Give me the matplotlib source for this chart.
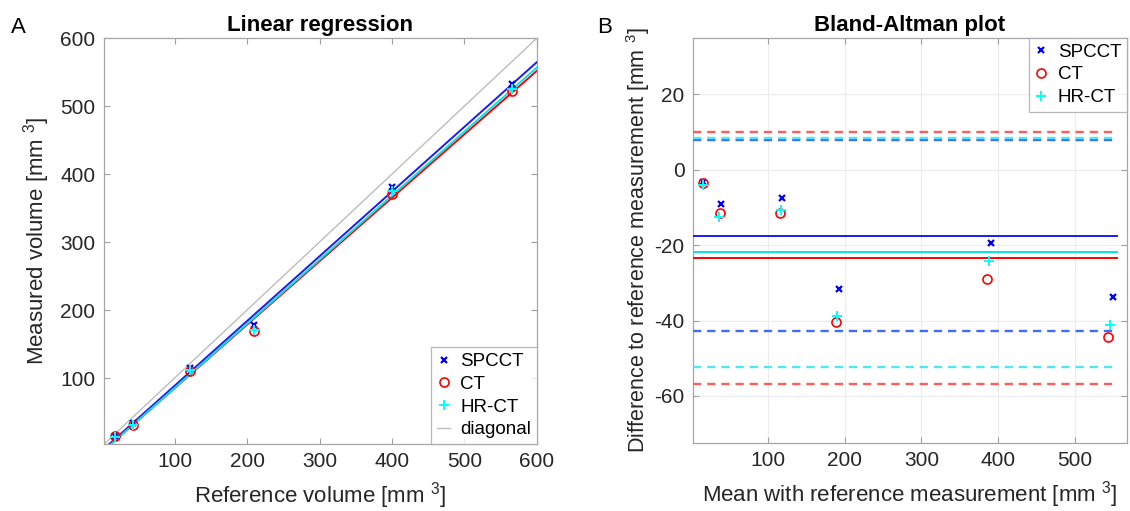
import numpy as np
import matplotlib
matplotlib.use("Agg")
import matplotlib.pyplot as plt

plt.rcParams['font.family'] = ['Liberation Sans', 'DejaVu Sans']
plt.rcParams['mathtext.fontset'] = 'custom'
plt.rcParams['mathtext.rm'] = 'Liberation Sans'
plt.rcParams['axes.unicode_minus'] = False

# ---- data ----
reference_volume = [17.5, 43, 122, 209, 400, 566]
spcct_volume = [14.3, 33.9, 114.5, 177.4, 380.5, 532.3]
ct_volume = [14.1, 31.6, 110.6, 168.5, 371.0, 521.5]
hrct_volume = [13.6, 30.6, 111.3, 170.3, 375.7, 524.8]

series_names = ["SPCCT", "CT", "HR-CT"]
x_ticks = [100, 200, 300, 400, 500, 600]
y_ticks = [100, 200, 300, 400, 500, 600]
ba_x_ticks = [100, 200, 300, 400, 500]
ba_y_ticks = [-60, -40, -20, 0, 20]

TXT = '#262626'
EDGE = '#a6a6a6'
styles = [
    dict(marker='x', color='#0000ff', ms=4.5, mew=1.6, line='#1a1aff', dash='#3f6bff'),
    dict(marker='o', color='#ff0000', ms=6.5, mew=1.2, line='#ff0000', dash='#ff5c5c', mfc='none'),
    dict(marker='+', color='#00ffff', ms=6.5, mew=1.4, line='#00e6e6', dash='#4de8f0'),
]
series = [spcct_volume, ct_volume, hrct_volume]

fig = plt.figure(figsize=(11.3, 5.11), dpi=100)
ax1 = fig.add_axes([0.0916, 0.1311, 0.3836, 0.7945])
ax2 = fig.add_axes([0.6133, 0.1331, 0.3841, 0.7926])

ref = np.array(reference_volume)

leg_kw = dict(fontsize=13.5, frameon=True, fancybox=False, edgecolor=EDGE,
              borderaxespad=0.0, handlelength=0.7, handletextpad=0.55,
              borderpad=0.3, labelspacing=0.3)

# ---- Linear regression ----
xx = np.array([0, 600])
for name, vals, st in zip(series_names, series, styles):
    ax1.plot(ref, vals, linestyle='none', marker=st['marker'], color=st['color'],
             ms=st['ms'], mew=st['mew'], mfc=st.get('mfc', st['color']), label=name, zorder=4)
for vals, st in zip(series, styles):
    k, b = np.polyfit(ref, vals, 1)
    ax1.plot(xx, k * xx + b, color=st['line'], lw=1.4, zorder=3)
ax1.plot(xx, xx, color='#bdbdbd', lw=1.0, label='diagonal', zorder=2)
ax1.set_xlim(2, 600)
ax1.set_ylim(3, 600)
ax1.set_xticks(x_ticks)
ax1.set_yticks(y_ticks)
ax1.set_title('Linear regression', fontsize=16, fontweight='bold', pad=5)
ax1.set_xlabel(r'Reference volume [mm $^{3}$]', fontsize=16, color=TXT, labelpad=6)
ax1.set_ylabel(r'Measured volume [mm $^{3}$]', fontsize=16, color=TXT, labelpad=6)
leg1 = ax1.legend(loc='lower right', **leg_kw)
leg1.get_frame().set_linewidth(0.9)

# ---- Bland-Altman ----
for name, vals, st in zip(series_names, series, styles):
    v = np.array(vals)
    mean = (ref + v) / 2
    diff = v - ref
    ax2.plot(mean, diff, linestyle='none', marker=st['marker'], color=st['color'],
             ms=st['ms'], mew=st['mew'], mfc=st.get('mfc', st['color']), label=name, zorder=4)
xl = (2.3, 568)
x_end = 555
for vals, st in zip(series, styles):
    diff = np.array(vals) - ref
    m = diff.mean()
    s = diff.std(ddof=1)
    ax2.plot([xl[0], x_end], [m, m], color=st['line'], lw=1.4, zorder=3)
    for lim in (m + 1.96 * s, m - 1.96 * s):
        ax2.plot([xl[0], x_end], [lim, lim], color=st['dash'], lw=1.7, ls=(0, (3.5, 2.5)), zorder=3)
ax2.set_xlim(*xl)
ax2.set_ylim(-72.5, 35)
ax2.set_xticks(ba_x_ticks)
ax2.set_yticks(ba_y_ticks)
ax2.grid(True, color='#ececec', lw=0.8)
ax2.set_axisbelow(True)
ax2.set_title('Bland-Altman plot', fontsize=16, fontweight='bold', pad=5)
ax2.set_xlabel(r'Mean with reference measurement [mm $^{3}$]', fontsize=16, color=TXT, labelpad=6)
ax2.set_ylabel(r'Difference to reference measurement [mm $^{3}$]', fontsize=15.5, color=TXT, labelpad=4)
ax2.yaxis.set_label_coords(-0.095, 0.5)
leg2 = ax2.legend(loc='upper right', **leg_kw)
leg2.get_frame().set_linewidth(0.9)

for ax in (ax1, ax2):
    for sp in ax.spines.values():
        sp.set_color(EDGE)
        sp.set_linewidth(0.9)
    ax.tick_params(direction='in', length=4, width=0.8, color='#a0a0a0',
                   labelsize=15, labelcolor=TXT, top=True, right=True, pad=6)

fig.text(0.010, 0.935, 'A', fontsize=16, color='black')
fig.text(0.528, 0.935, 'B', fontsize=16, color='black')

fig.savefig('out.png', dpi=100)
